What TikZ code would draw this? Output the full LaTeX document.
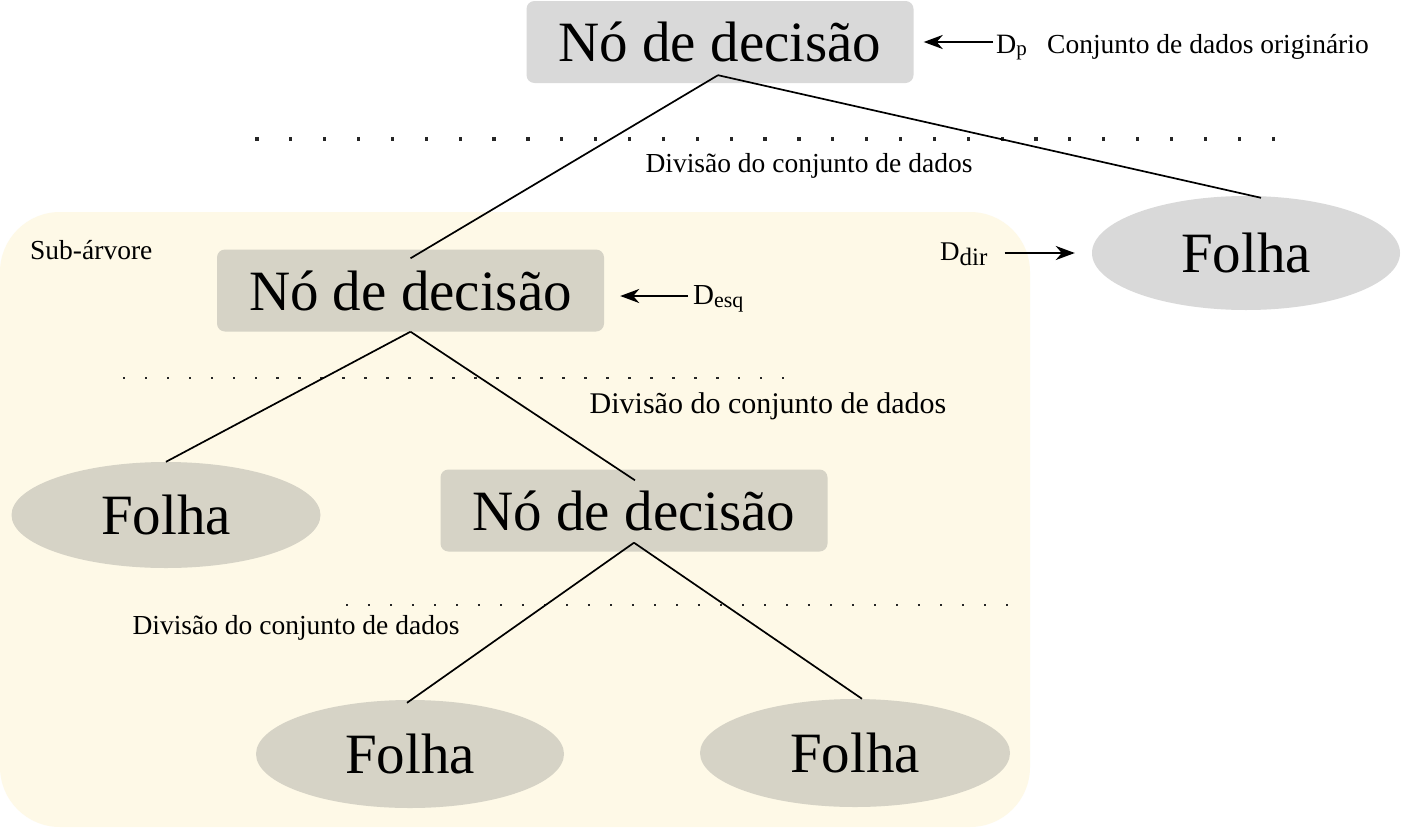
\documentclass[tikz,border=0pt]{standalone}
\usepackage{fontspec}
\setmainfont{Liberation Serif}
\usetikzlibrary{shapes.geometric,arrows.meta,calc}
\definecolor{topgray}{HTML}{D9D9D9}
\definecolor{subgray}{HTML}{D6D3C6}
\definecolor{cream}{HTML}{FEF9E7}
\begin{document}
\begin{tikzpicture}[x=1pt,y=-1pt,
  decnode/.style={rectangle, rounded corners=8pt, inner sep=0pt, minimum height=82pt, minimum width=387pt, font=\fontsize{57}{60}\selectfont},
  leafnode/.style={ellipse, inner sep=0pt, minimum width=308pt, minimum height=108pt, font=\fontsize{57}{60}\selectfont},
  treeline/.style={line width=1.7pt, black},
  ptr/.style={line width=2.5pt, -{Stealth[length=19pt,width=14pt,inset=6pt]}},
  lab/.style={font=\fontsize{27.5}{30}\selectfont, inner sep=0pt},
  biglab/.style={font=\fontsize{30}{32}\selectfont, inner sep=0pt},
  dotmark/.style={fill=black!85}
]
\useasboundingbox (0,0) rectangle (1402,827);
\fill[white] (0,0) rectangle (1402,827);
% subtree background
\fill[cream, rounded corners=60pt] (0,212) rectangle (1030,827);

% nodes
\node[decnode, fill=topgray] (n1) at (720,42) {Nó de decisão};
\node[leafnode, fill=topgray, minimum height=114pt] (f1) at (1246,253) {Folha};
\node[decnode, fill=subgray] (n2) at (410.5,290.5) {Nó de decisão};
\node[leafnode, fill=subgray, minimum height=106pt, minimum width=309pt] (f2) at (166,515) {Folha};
\node[decnode, fill=subgray] (n3) at (634,510.5) {Nó de decisão};
\node[leafnode, fill=subgray] (f3) at (410,754) {Folha};
\node[leafnode, fill=subgray, minimum width=310pt] (f4) at (855,753) {Folha};

% dotted rows
\foreach \i in {0,...,30} \fill[dotmark] ({257+\i*33.87-1.6},137.4) rectangle ++(3.2,3.2);
\foreach \i in {0,...,30} \fill[dotmark] ({124+\i*21.97-1.3},376.7) rectangle ++(2.6,2.6);
\foreach \i in {0,...,30} \fill[dotmark] ({347+\i*22-1.3},603.7) rectangle ++(2.6,2.6);

% tree lines
\draw[treeline] ($(n1.south)+(-2,-8)$) -- ($(n2.north)+(0,9)$);
\draw[treeline] ($(n1.south)+(-2,-8)$) -- ($(f1.north)+(15,2)$);
\draw[treeline] (n2.south) -- (f2.north);
\draw[treeline] (n2.south) -- ($(n3.north)+(1,11)$);
\draw[treeline] ($(n3.south)+(0,-9)$) -- ($(f3.north)+(-3,3)$);
\draw[treeline] ($(n3.south)+(0,-9)$) -- ($(f4.north)+(7,0)$);

% labels
\node[lab, anchor=base west] (orig) at (1047,53) {Conjunto de dados originário};
\node[lab, anchor=base] (div1) at (809,172) {Divisão do conjunto de dados};
\node[biglab, anchor=base] (div2) at (768,413) {Divisão do conjunto de dados};
\node[lab, anchor=base] (div3) at (296,634) {Divisão do conjunto de dados};
\node[lab, anchor=base west] (sub) at (30,259) {Sub-árvore};

\node[lab, anchor=base west, font=\fontsize{28}{30}\selectfont] (dp) at (996,53) {D\raisebox{-2pt}{\fontsize{21}{21}\selectfont p}};
\node[lab, anchor=base west, font=\fontsize{27}{28}\selectfont] (ddir) at (940,260) {D\raisebox{-5pt}{\fontsize{25}{25}\selectfont dir}};
\node[lab, anchor=base west, font=\fontsize{29}{30}\selectfont] (desq) at (693,304) {D\raisebox{-3pt}{\fontsize{22}{22}\selectfont esq}};

% arrows
\coordinate (dptail) at ([xshift=-3pt]dp.west |- n1.east);
\coordinate (n1r) at ([xshift=10pt]n1.east);
\draw[ptr] (dptail) -- (dptail -| n1r);

\coordinate (ddirtail) at ([xshift=17pt]ddir.east |- f1.west);
\coordinate (f1l) at ([xshift=-17pt]f1.west);
\draw[ptr] (ddirtail) -- (ddirtail -| f1l);

\coordinate (desqtail) at ([xshift=-5pt,yshift=8pt]desq.base west);
\coordinate (n2r) at ([xshift=16pt]n2.east);
\draw[ptr] (desqtail) -- (desqtail -| n2r);
\end{tikzpicture}
\end{document}
